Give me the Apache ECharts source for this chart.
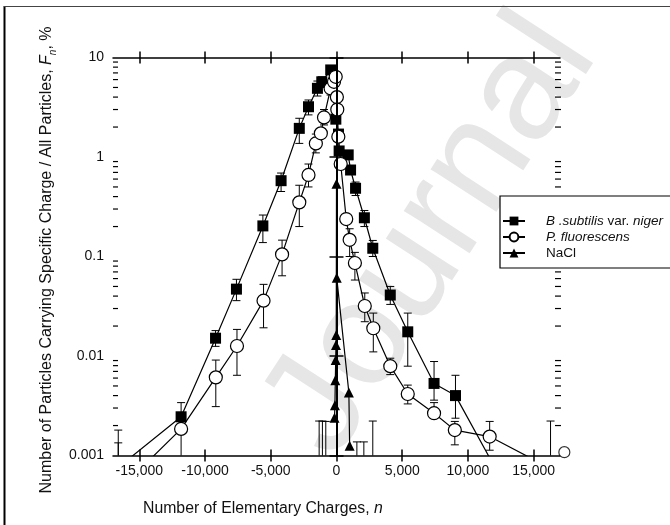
<!DOCTYPE html>
<html><head><meta charset="utf-8">
<script src="https://cdn.jsdelivr.net/npm/echarts@6/dist/echarts.min.js"></script>
<style>html,body{margin:0;padding:0;background:#fff}#c{width:670px;height:525px}</style>
</head><body><div id="c"></div>
<script>
// ---- axes / ticks ----
const xTicks = [-15000, -10000, -5000, 0, 5000, 10000, 15000];
const xTickLabels = ['-15,000', '-10,000', '-5,000', '0', '5,000', '10,000', '15,000'];
const yTicks = [0.001, 0.01, 0.1, 1, 10];
const yTickLabels = ['0.001', '0.01', '0.1', '1', '10'];
const yMinorMultipliers = [2, 3, 4, 5, 6, 7, 8, 9];
const seriesNames = ['B .subtilis var. niger', 'P. fluorescens', 'NaCl'];

// ---- B. subtilis var. niger (filled squares) ----
const bsN = [-16000, -11820, -9200, -7610, -5600, -4215, -2830, -2130, -1450, -1120, -440, -50, 150, 200, 890, 1070, 1450, 2120, 2760, 4090, 5420, 7420, 9050, 12000];
const bsF = [0.00088, 0.00245, 0.0151, 0.047, 0.203, 0.578, 1.94, 3.2, 4.9, 5.7, 7.5, 2.4, 1.7, 1.15, 1.05, 0.74, 0.485, 0.245, 0.121, 0.041, 0.0175, 0.0053, 0.004, 0.00078];
// error bars: [n, low, high]
const bsErr = [[-11820, 0.0018, 0.0034], [-9200, 0.0125, 0.018], [-7610, 0.036, 0.059], [-5600, 0.138, 0.261], [-4215, 0.45, 0.69], [-2830, 1.37, 2.45], [-2130, 2.65, 3.74], [-1450, 4.1, 5.8], [-1120, 5.0, 6.4], [1450, 0.41, 0.56], [2120, 0.2, 0.29], [2760, 0.1, 0.145], [4090, 0.033, 0.05], [5420, 0.0079, 0.027], [7420, 0.0036, 0.0088], [9050, 0.00237, 0.0064], [-16600, 0.0004, 0.0018], [-16600, 0.0004, 0.00134]];

// ---- P. fluorescens (open circles) ----
const pfN = [-14500, -11820, -9180, -7570, -5550, -4140, -2830, -2130, -1570, -1190, -950, -450, -190, -60, 30, 60, 140, 320, 740, 1000, 1400, 2150, 2800, 4090, 5420, 7420, 9000, 11650, 15500];
const pfF = [0.00083, 0.00185, 0.0061, 0.0126, 0.036, 0.105, 0.35, 0.66, 1.37, 1.73, 2.5, 4.9, 5.7, 6.4, 4.0, 3.0, 1.6, 0.85, 0.238, 0.147, 0.086, 0.0318, 0.019, 0.0079, 0.00415, 0.00266, 0.0018, 0.00155, 0.00084];
const pfErr = [[-11820, 0.0009, 0.0024], [-9180, 0.0031, 0.0091], [-7570, 0.0064, 0.0185], [-5550, 0.0192, 0.0525], [-4140, 0.064, 0.146], [-2830, 0.2, 0.52], [-2130, 0.5, 0.85], [-1570, 1.1, 1.7], [-950, 2.1, 3.0], [-450, 4.2, 5.6], [1000, 0.1, 0.19], [1400, 0.058, 0.11], [2150, 0.0221, 0.043], [2800, 0.011, 0.027], [4090, 0.0065, 0.0095], [5420, 0.0033, 0.0051], [7420, 0.0024, 0.0034], [9000, 0.00128, 0.0022], [11650, 0.00113, 0.0022], [-1320, 0.0004, 0.00222], [-1072, 0.0004, 0.00222], [-815, 0.0004, 0.0022], [1550, 0.0004, 0.00137], [2080, 0.0004, 0.00137], [2760, 0.0004, 0.00222], [16280, 0.0004, 0.00222]];
const pfOutlier = [[17330, 0.00108]];

// ---- NaCl (filled triangles) ----
const naN = [-150, -120, -90, -60, -40, -20, 0, 20, 940, 1000];
const naF = [0.0024, 0.0032, 0.0057, 0.0091, 0.0129, 0.0163, 0.54, 0.061, 0.0043, 0.00125];

const zip = (a, b) => a.map((v, i) => [v, b[i]]);
const FONT = 'Liberation Sans, Arial, sans-serif';
const X_MIN = -17000, X_MAX = 17000;
const yMinor = [];
yTicks.slice(0, -1).forEach(d => yMinorMultipliers.forEach(m => yMinor.push([X_MIN, m * d])));

const axisLineStyle = { color: '#000', width: 1.5 };
const tickStyle = { color: '#000', width: 1.5 };

function xAxisDef(pos, inside, withLine, withLabel) {
  return {
    type: 'value', min: X_MIN, max: X_MAX, position: pos,
    axisLine: { show: withLine, lineStyle: axisLineStyle },
    axisTick: { show: true, customValues: xTicks, inside: inside, length: 6, lineStyle: tickStyle },
    axisLabel: withLabel ? {
      show: true, customValues: xTicks, margin: 9, fontSize: 14, color: '#111', fontFamily: FONT,
      formatter: v => { const i = xTicks.indexOf(v); return i >= 0 ? xTickLabels[i] : ''; }
    } : { show: false },
    splitLine: { show: false }
  };
}
function yAxisDef(pos, inside, withLine, withLabel) {
  return {
    type: 'log', logBase: 10, min: 0.001, max: 10, position: pos,
    axisLine: { show: withLine, lineStyle: axisLineStyle },
    axisTick: { show: true, customValues: yTicks, inside: inside, length: 7, lineStyle: tickStyle },
    axisLabel: withLabel ? {
      show: true, customValues: yTicks, margin: 9, fontSize: 14, color: '#111', fontFamily: FONT,
      formatter: v => {
        const i = yTicks.findIndex(t => Math.abs(Math.log10(t) - Math.log10(v)) < 1e-6);
        return i >= 0 ? yTickLabels[i] : '';
      }
    } : { show: false },
    minorTick: { show: false },
    splitLine: { show: false }
  };
}

function errRender(params, api) {
  const x = api.value(0), lo = api.value(1), hi = api.value(2);
  const pLo = api.coord([x, lo]), pHi = api.coord([x, hi]);
  const w = 4;
  const st = { stroke: '#000', lineWidth: 1 };
  return {
    type: 'group', children: [
      { type: 'line', shape: { x1: pHi[0], y1: pHi[1], x2: pLo[0], y2: pLo[1] }, style: st },
      { type: 'line', shape: { x1: pHi[0] - w, y1: pHi[1], x2: pHi[0] + w, y2: pHi[1] }, style: st },
      { type: 'line', shape: { x1: pLo[0] - w, y1: pLo[1], x2: pLo[0] + w, y2: pLo[1] }, style: st }
    ]
  };
}
function minorRender(params, api) {
  const v = api.value(1);
  const pL = api.coord([X_MIN, v]), pR = api.coord([X_MAX, v]);
  const st = { stroke: '#000', lineWidth: 1.2 };
  return {
    type: 'group', children: [
      { type: 'line', shape: { x1: pL[0], y1: pL[1], x2: pL[0] + 5, y2: pL[1] }, style: st },
      { type: 'line', shape: { x1: pR[0] - 5, y1: pR[1], x2: pR[0] + 1, y2: pR[1] }, style: st }
    ]
  };
}

const chart = echarts.init(document.getElementById('c'), null, { renderer: 'canvas' });
chart.setOption({
  animation: false,
  backgroundColor: '#fff',
  grid: { left: 113, right: 110, top: 57.5, bottom: 69.5, containLabel: false, outerBoundsMode: 'none' },
  xAxis: [
    xAxisDef('bottom', false, true, true),
    xAxisDef('bottom', true, false, false),
    xAxisDef('top', false, true, false),
    xAxisDef('top', true, false, false)
  ],
  yAxis: [
    yAxisDef('left', false, true, true),
    yAxisDef('left', true, false, false),
    yAxisDef('right', true, true, false),
    yAxisDef('right', false, false, false)
  ],
  legend: {
    data: seriesNames, orient: 'vertical', left: 500, top: 196,
    itemWidth: 22, itemHeight: 11, itemGap: 2,
    padding: [18, 40, 8, 2],
    backgroundColor: '#fff', borderColor: '#000', borderWidth: 1.2, borderRadius: 0,
    textStyle: {
      fontSize: 13.5, fontFamily: FONT, color: '#111', padding: [0, 0, 0, 16],
      rich: { i: { fontStyle: 'italic', fontSize: 13.5, fontFamily: FONT, color: '#111' } }
    },
    formatter: name => name === seriesNames[0] ? '{i|B .subtilis} var. {i|niger}'
      : name === seriesNames[1] ? '{i|P. fluorescens}' : name
  },
  graphic: [
    { type: 'text', z: -10, x: 432, y: 236, rotation: 57 * Math.PI / 180,
      style: { text: 'Journal', fontSize: 148, fontFamily: FONT, fill: '#e6e6e6', align: 'center', verticalAlign: 'middle' } },
    { type: 'line', shape: { x1: 4.5, y1: 6, x2: 4.5, y2: 525 }, style: { stroke: '#000', lineWidth: 2 } },
    { type: 'line', shape: { x1: 4, y1: 6.5, x2: 670, y2: 6.5 }, style: { stroke: '#444', lineWidth: 1 } },
    { type: 'text', x: 47, y: 260, rotation: Math.PI / 2,
      style: {
        text: '{a|Number of Particles Carrying Specific Charge / All Particles, }{i|F}{s|n}{a|, %}',
        align: 'center', verticalAlign: 'middle',
        rich: {
          a: { fontSize: 16, fontFamily: FONT, fill: '#111' },
          i: { fontSize: 16, fontFamily: FONT, fontStyle: 'italic', fill: '#111' },
          s: { fontSize: 10, fontFamily: FONT, fontStyle: 'italic', fill: '#111', verticalAlign: 'bottom', padding: [0, 0, -3, 0] }
        }
      } },
    { type: 'text', x: 143, y: 509,
      style: {
        text: '{a|Number of Elementary Charges, }{i|n}',
        align: 'left', verticalAlign: 'middle',
        rich: {
          a: { fontSize: 15.8, fontFamily: FONT, fill: '#111' },
          i: { fontSize: 15.8, fontFamily: FONT, fontStyle: 'italic', fill: '#111' }
        }
      } }
  ],
  series: [
    { type: 'custom', name: 'minorTicks', renderItem: minorRender, data: yMinor, encode: { x: 0, y: 1 }, z: 1, silent: true, clip: false },
    { type: 'custom', name: 'errB', renderItem: errRender, data: bsErr, encode: { x: 0, y: [1, 2] }, z: 2, silent: true, clip: true },
    { type: 'custom', name: 'errP', renderItem: errRender, data: pfErr, encode: { x: 0, y: [1, 2] }, z: 2, silent: true, clip: true },
    {
      name: seriesNames[0], type: 'line', data: zip(bsN, bsF), symbol: 'rect', symbolSize: 11, clip: true, z: 3,
      itemStyle: { color: '#000' }, lineStyle: { color: '#000', width: 1.2 }
    },
    {
      name: seriesNames[1], type: 'line', data: zip(pfN, pfF), symbol: 'circle', symbolSize: 13, clip: true, z: 4,
      itemStyle: { color: '#fff', borderColor: '#000', borderWidth: 1.2 }, lineStyle: { color: '#000', width: 1.2 }
    },
    {
      name: seriesNames[2], type: 'line', data: zip(naN, naF), symbol: 'triangle', symbolSize: 10, clip: true, z: 5,
      itemStyle: { color: '#000' }, lineStyle: { color: '#000', width: 1.2 },
      markLine: { symbol: 'none', silent: true, label: { show: false }, data: [{ xAxis: 0 }],
        lineStyle: { color: '#000', width: 2, type: 'solid' } }
    },
    {
      type: 'scatter', name: 'pfOutlier', data: pfOutlier, symbol: 'circle', symbolSize: 11, clip: false, z: 4,
      itemStyle: { color: '#fff', borderColor: '#000', borderWidth: 1.2 }
    }
  ]
});
</script></body></html>
